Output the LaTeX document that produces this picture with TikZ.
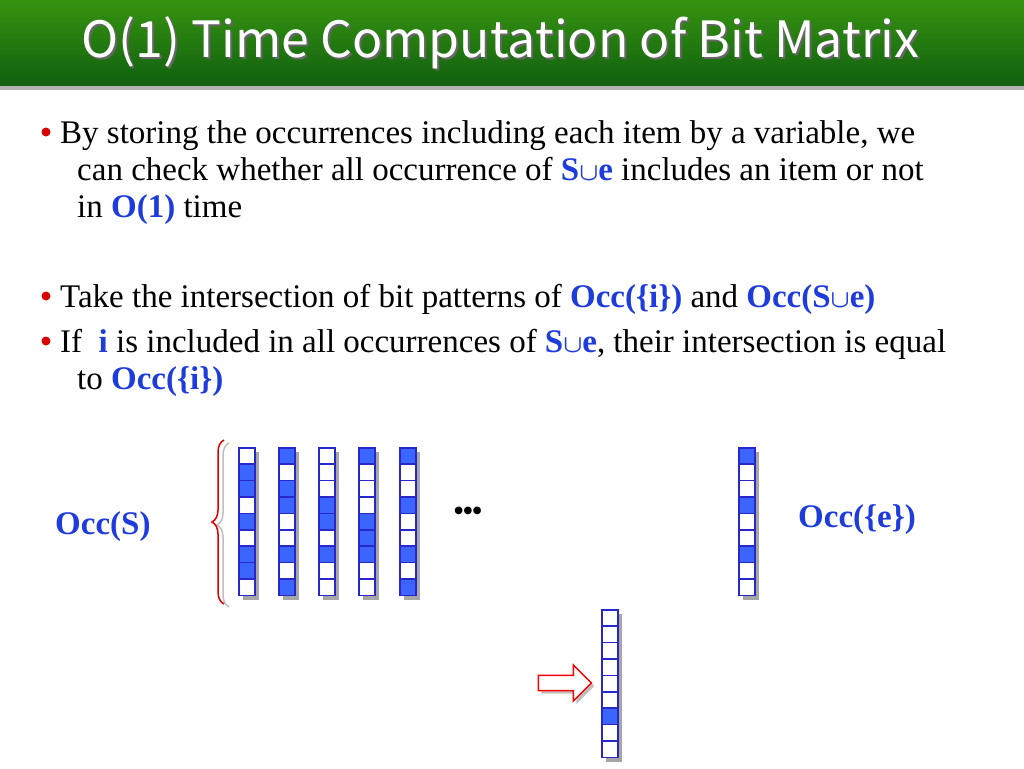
\documentclass[tikz,border=0pt]{standalone}
\usepackage{fontspec}
\setmainfont{Liberation Serif}
\newfontfamily\titlefont{Noto Sans CJK JP}
\usetikzlibrary{decorations.pathreplacing,shapes.arrows,shadows}

\definecolor{titlegreen}{RGB}{20,120,20}
\definecolor{bitblue}{RGB}{60,100,255}
\definecolor{bitedge}{RGB}{40,40,200}
\definecolor{keyblue}{RGB}{30,60,220}

\tikzset{bit/.style = {draw=bitedge, line width=1.6pt, minimum width=16pt, minimum height=16.4pt,
                       inner sep=0pt, anchor=north west},
         txt/.style = {anchor=base west, inner sep=0pt, font=\fontsize{33}{38}\selectfont},
         dot/.style = {circle, fill=red!85!black, inner sep=0pt, minimum size=9pt}}

\newcommand{\key}[1]{\textcolor{keyblue}{\textbf{#1}}}
\newcommand{\SUe}{\key{S$\boldsymbol{\cup}$e}}
\usepackage{amsmath}

% column of bits: x, top y, list of bits
\newcommand{\bitcol}[3]{%
  \fill[gray!70] (#1+5,#2+5) rectangle ++(16,148);
  \foreach \b [count=\k from 0] in {#3} {
    \ifnum\b=1 \node[bit, fill=bitblue] at (#1,#2+16.4*\k) {};
    \else \node[bit, fill=white] at (#1,#2+16.4*\k) {}; \fi
  }}

\begin{document}
\begin{tikzpicture}[x=1pt, y=-1pt]
\useasboundingbox (0,0) rectangle (1024,768);

% title bar
\shade[top color=titlegreen!80!lime, bottom color=titlegreen!80!black] (0,0) rectangle (1024,86);
\fill[gray!60] (0,86) rectangle (1024,90);
\node[anchor=west, text=black!60, font=\titlefont\fontsize{50}{54}\selectfont] at (80,45) {O(1) Time Computation of Bit Matrix};
\node[anchor=west, text=white, font=\titlefont\fontsize{50}{54}\selectfont] (title) at (78,43) {O(1) Time Computation of Bit Matrix};

% text
\node[dot] (b1) at (46,132) {};
\node[txt] (l1) at (60,143) {By storing the occurrences including each item by a variable, we};
\node[txt] (l2) at (77,180) {can check whether all occurrence of \SUe{} includes an item or not};
\node[txt] (l3) at (77,217) {in \key{O(1)} time};
\node[dot] (b2) at (46,296) {};
\node[txt] (l4) at (60,307) {Take the intersection of bit patterns of \key{Occ(\{i\})} and \key{Occ(S$\boldsymbol{\cup}$e)}};
\node[dot] (b3) at (46,341) {};
\node[txt] (l5) at (60,352) {If \ \key{i} is included in all occurrences of \SUe, their intersection is equal};
\node[txt] (l6) at (77,389) {to \key{Occ(\{i\})}};

% bit matrix
\bitcol{238}{447}{0,1,1,0,1,0,1,1,0}
\bitcol{278}{447}{1,0,1,1,0,0,1,0,1}
\bitcol{318}{447}{0,0,0,1,1,0,1,0,0}
\bitcol{358}{447}{1,0,0,0,1,1,1,0,0}
\bitcol{399}{447}{1,0,0,1,0,0,1,0,1}
\bitcol{738}{447}{1,0,0,1,0,0,1,0,0}
\bitcol{601}{609}{0,0,0,0,0,0,1,0,0}

\draw[gray!50, line width=1.5pt, decorate, decoration={brace, amplitude=12pt}] (229,607) -- (229,443);
\draw[red!85!black, line width=1.5pt, decorate, decoration={brace, amplitude=12pt}] (224,604) -- (224,440);

\node[txt] (occs) at (55,534) {\key{Occ(S)}};
\node[txt] (occe) at (798,527) {\key{Occ(\{e\})}};
\node[font=\fontsize{32}{32}\selectfont] (dots) at (468,514) {\textbullet\kern-2pt\textbullet\kern-2pt\textbullet};

\node[single arrow, draw=red, fill=white, line width=1.5pt, minimum height=53pt, minimum width=36pt,
      single arrow head extend=9pt, single arrow head indent=0pt, inner sep=0pt, text height=12pt,
      drop shadow={shadow xshift=3pt, shadow yshift=-3pt}] (arr) at (561,683) {};
\end{tikzpicture}
\end{document}
